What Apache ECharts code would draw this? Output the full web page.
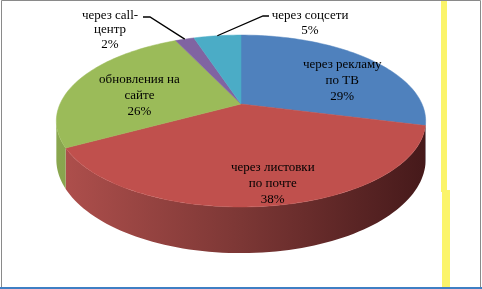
<!DOCTYPE html>
<html>
<head>
<meta charset="utf-8">
<script src="https://cdn.jsdelivr.net/npm/echarts@6/dist/echarts.min.js"></script>
<style>
html,body{margin:0;padding:0;background:#fff;}
#chart{width:482px;height:289px;}
</style>
</head>
<body>
<div id="chart"></div>
<script>
// ---- data ----
const categories = ['через рекламу\nпо ТВ', 'через листовки\nпо почте', 'обновления на\nсайте', 'через call-\nцентр', 'через соцсети'];
const values = [29, 38, 26, 2, 5];
const percentLabels = ['29%', '38%', '26%', '2%', '5%'];

// ---- styles / layout ----
const topColors = ['#4f81bd', '#c0504d', '#9bbb59', '#8064a2', '#4bacc6'];
const sideLight = ['#476fa0', '#b0504d', '#8aa74f', '#6f5790', '#3f93aa'];
const sideMid   = ['#34557d', '#7c3735', '#66803a', '#52406b', '#2e6d7e'];
const sideDark  = ['#223a57', '#45191a', '#40521f', '#33284a', '#1c4550'];

const CX = 241, CY = 104, RX = 181, RY = 82.6, K = 0.198, H = 37;
const LABEL_F = 0.7, LABEL_DX = 12, LABEL_DY = 8;
const FONT_FAMILY = 'Liberation Serif';
const outsideLabels = {
  3: {text: [110, 30], elbow: [150, 17], end: [143, 17], lineHeight: 14.5},
  4: {text: [310, 23], elbow: [263, 16], end: [269, 16], lineHeight: 15}
};

const total = values.reduce((a, b) => a + b, 0);
const starts = [];
let acc = 0;
values.forEach(v => { starts.push(acc / total * Math.PI * 2); acc += v; });
const spans = values.map(v => v / total * Math.PI * 2);

function sc(t) { return 1 / (1 + K * Math.cos(t)); }
function proj(t, f) {
  const s = sc(t);
  return [CX + RX * Math.sin(t) * s * f, CY - RY * Math.cos(t) * s * f];
}
function projBottom(t) {
  const p = proj(t, 1);
  return [p[0], p[1] + H * sc(t)];
}
const VIS0 = Math.acos(-K), VIS1 = Math.PI * 2 - VIS0;

function renderSide(params, api) {
  const i = params.dataIndex;
  const a0 = starts[i], a1 = starts[i] + spans[i];
  const t0 = Math.max(a0, VIS0), t1 = Math.min(a1, VIS1);
  if (t1 <= t0) return {type: 'group', children: []};
  const N = 80, pts = [];
  for (let k = 0; k <= N; k++) pts.push(proj(t0 + (t1 - t0) * k / N, 1));
  for (let k = N; k >= 0; k--) pts.push(projBottom(t0 + (t1 - t0) * k / N));
  return {
    type: 'polygon',
    shape: {points: pts},
    style: {
      fill: {type: 'linear', x: CX - RX * 1.03, y: 0, x2: CX + RX * 1.03, y2: 0, global: true,
        colorStops: [{offset: 0, color: sideLight[i]}, {offset: 0.5, color: sideMid[i]}, {offset: 1, color: sideDark[i]}]},
      stroke: null
    }
  };
}

function renderTop(params, api) {
  const i = params.dataIndex;
  const a0 = starts[i], a1 = starts[i] + spans[i];
  const N = Math.max(6, Math.ceil(spans[i] / (Math.PI * 2) * 240));
  const pts = [[CX, CY]];
  for (let k = 0; k <= N; k++) pts.push(proj(a0 + (a1 - a0) * k / N, 1));
  const children = [{
    type: 'polygon',
    shape: {points: pts},
    style: {fill: topColors[i], stroke: topColors[i], lineWidth: 0.5}
  }];
  const mid = (a0 + a1) / 2;
  const txt = categories[i] + '\n' + percentLabels[i];
  if (outsideLabels[i]) {
    const o = outsideLabels[i];
    const edge = proj(mid, 1);
    children.push({
      type: 'polyline',
      shape: {points: [edge, o.elbow, o.end]},
      style: {stroke: '#000', lineWidth: 1.3, fill: null}
    });
    children.push({
      type: 'text',
      style: {x: o.text[0], y: o.text[1], text: txt, fontFamily: FONT_FAMILY, fontSize: 13, fill: '#000',
        align: 'center', verticalAlign: 'middle', lineHeight: o.lineHeight}
    });
  } else {
    const p = proj(mid, LABEL_F);
    children.push({
      type: 'text',
      style: {x: p[0] + LABEL_DX, y: p[1] + LABEL_DY, text: txt, fontFamily: FONT_FAMILY, fontSize: 13, fill: '#000',
        align: 'center', verticalAlign: 'middle', lineHeight: 16}
    });
  }
  return {type: 'group', children: children};
}

const chart = echarts.init(document.getElementById('chart'), null, {renderer: 'canvas'});
chart.setOption({
  animation: false,
  backgroundColor: '#ffffff',
  textStyle: {fontFamily: FONT_FAMILY},
  graphic: [
    {type: 'rect', shape: {x: 441, y: 0, width: 6, height: 192}, style: {fill: '#fbf46a'}, z: 0},
    {type: 'rect', shape: {x: 442, y: 190, width: 8, height: 99}, style: {fill: '#fbf46a'}, z: 0},
    {type: 'rect', shape: {x: 1.5, y: 0.5, width: 479, height: 288}, style: {fill: null, stroke: '#8a8a8a', lineWidth: 1}, z: 0},
    {type: 'line', shape: {x1: 0, y1: 288, x2: 482, y2: 288}, style: {stroke: '#3f7fc4', lineWidth: 2}, z: 0}
  ],
  series: [
    {type: 'custom', coordinateSystem: 'none', renderItem: renderSide, data: values, z: 2, silent: true},
    {type: 'custom', coordinateSystem: 'none', renderItem: renderTop, data: values, z: 3, silent: true}
  ]
});
</script>
</body>
</html>
